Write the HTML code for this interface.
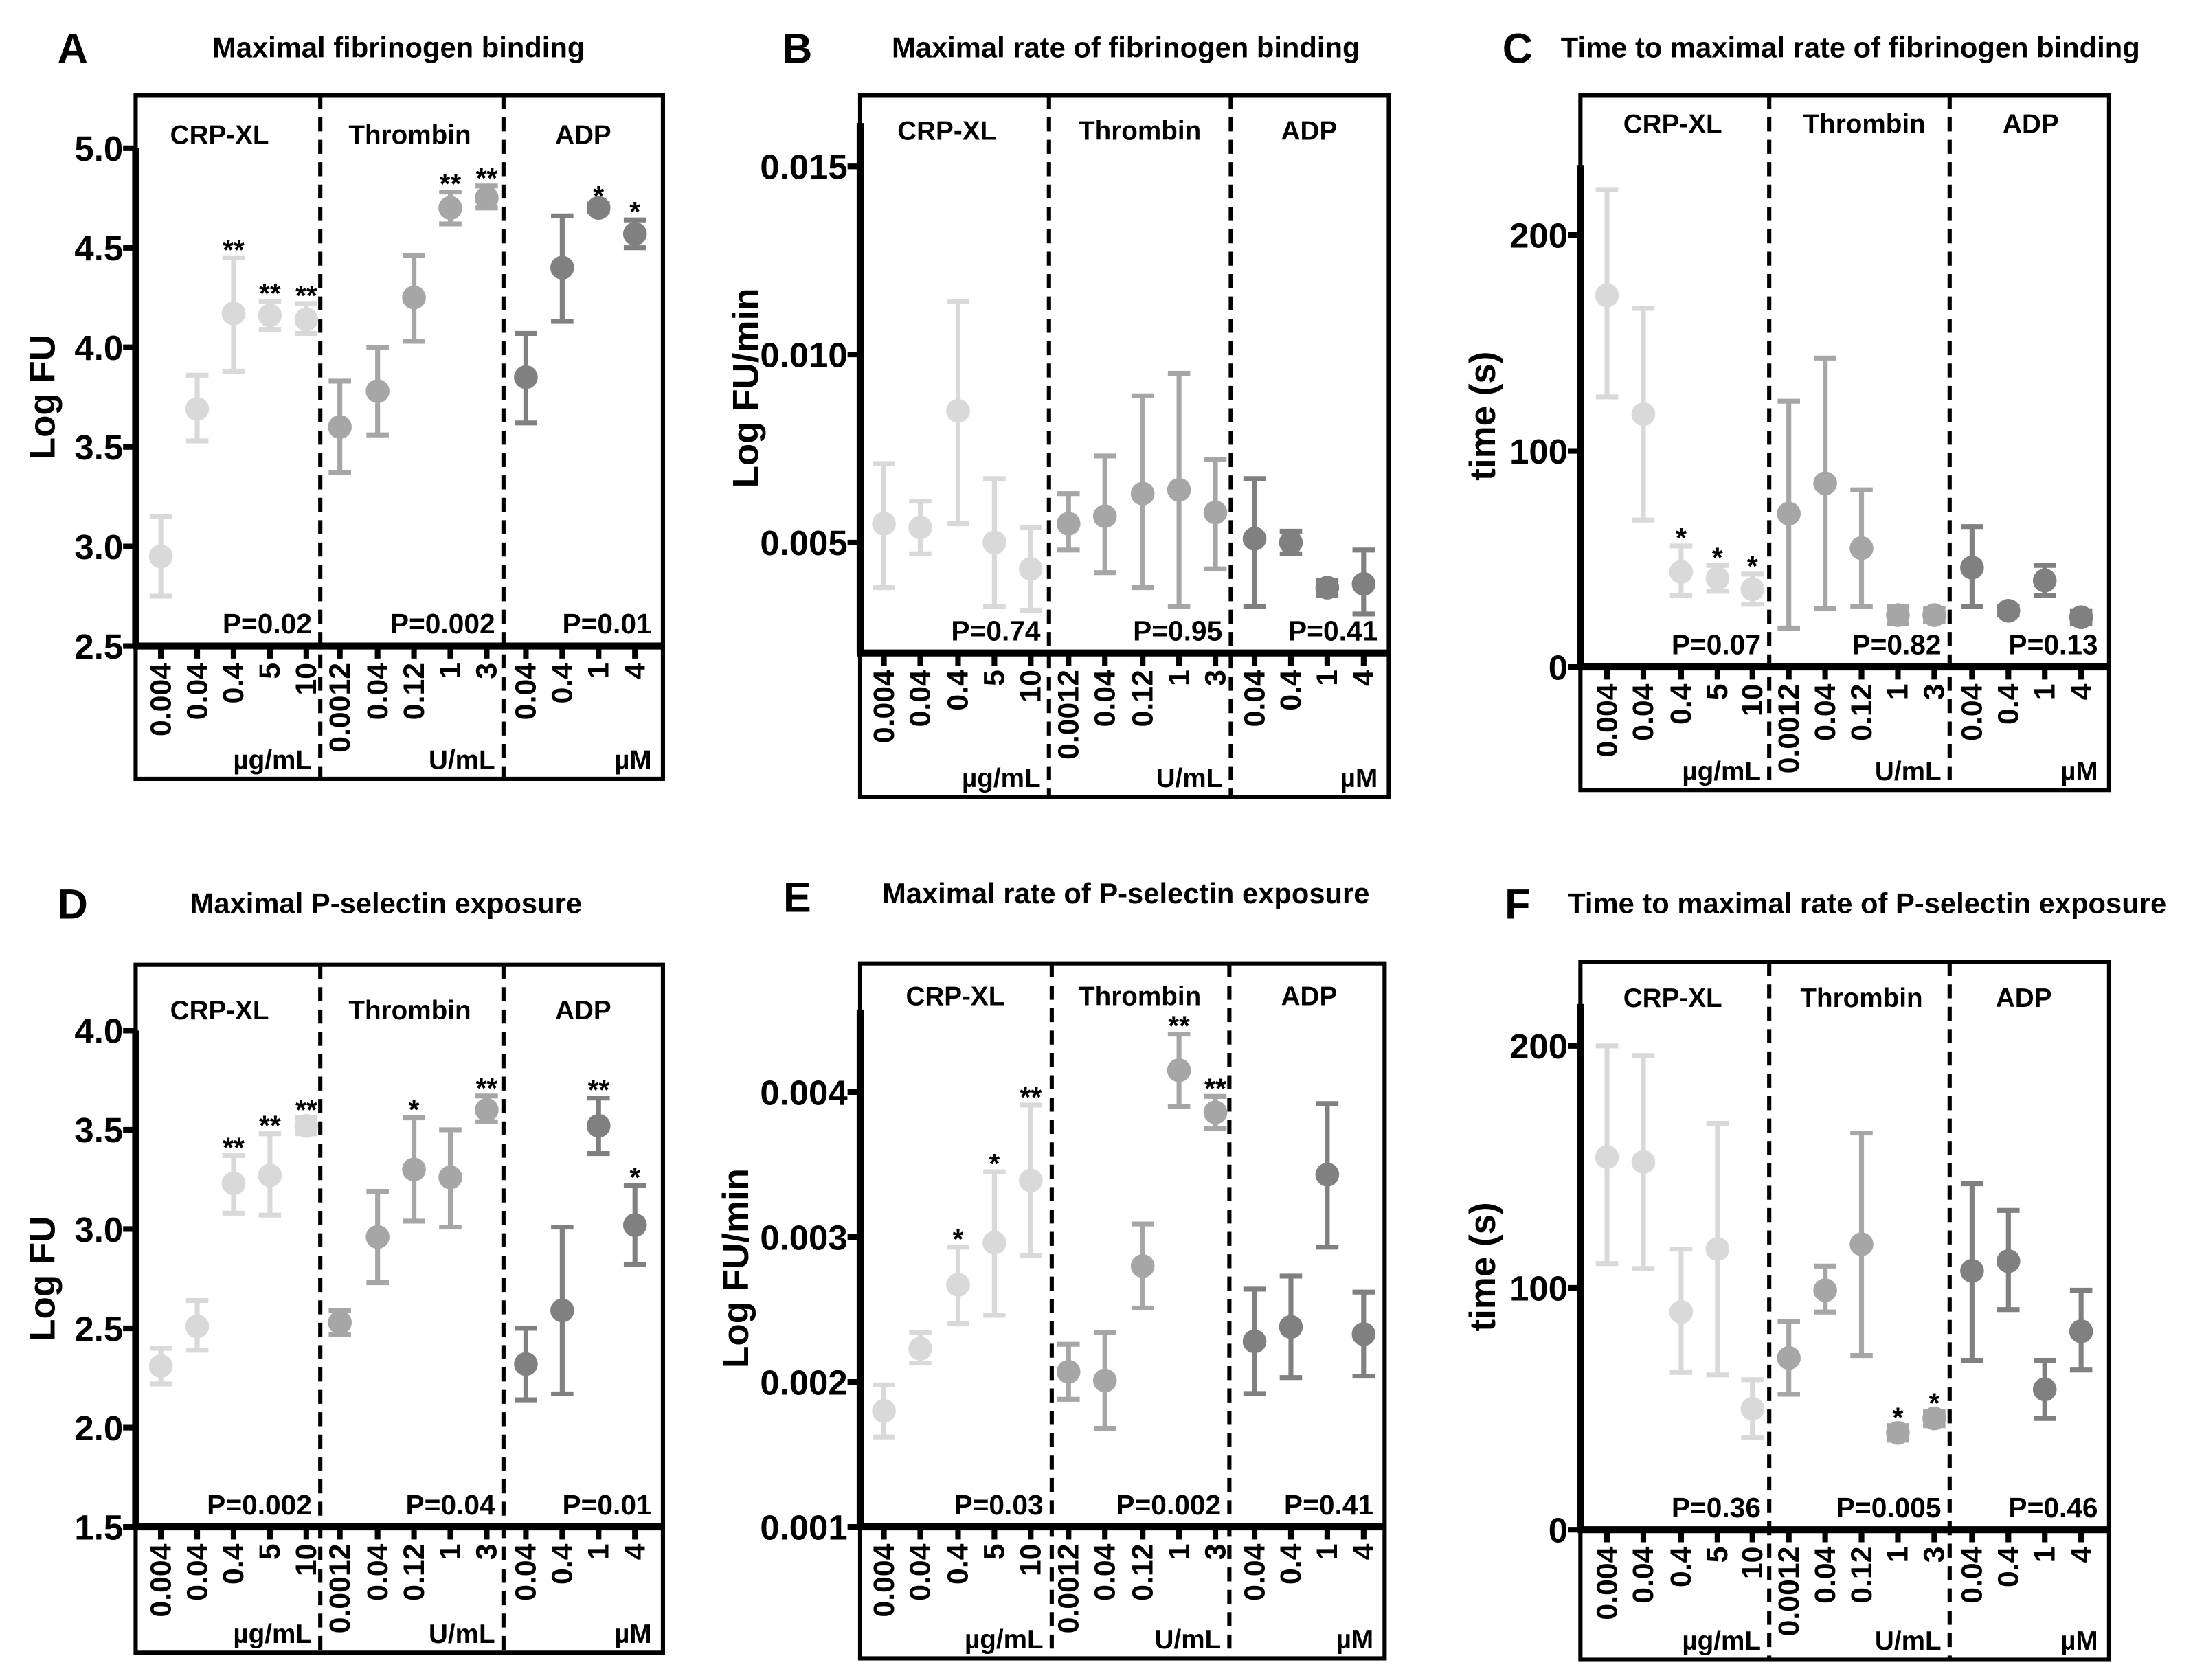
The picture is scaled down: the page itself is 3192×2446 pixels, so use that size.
<!DOCTYPE html>
<html><head><meta charset="utf-8"><style>
html,body{margin:0;padding:0;background:#fff}
svg{display:block}
text{font-family:"Liberation Sans",Arial,sans-serif;font-weight:bold}
</style></head><body>
<svg id="fig" width="3192" height="2446" viewBox="0 0 1568 1201.5" preserveAspectRatio="none" xmlns="http://www.w3.org/2000/svg"></svg>
<script>
// ---- data ----
const groups = ["CRP-XL","Thrombin","ADP"];
const units = ["µg/mL","U/mL","µM"];
const catLabels = ["0.004","0.04","0.4","5","10","0.0012","0.04","0.12","1","3","0.04","0.4","1","4"];
const catGroup = [0,0,0,0,0,1,1,1,1,1,2,2,2,2];

const aMean=[2.95,3.69,4.17,4.16,4.14,3.60,3.78,4.25,4.70,4.75,3.85,4.40,4.70,4.57];
const aLo=[2.75,3.53,3.88,4.09,4.07,3.37,3.56,4.03,4.62,4.70,3.62,4.13,4.68,4.50];
const aHi=[3.15,3.86,4.45,4.23,4.22,3.83,4.00,4.46,4.78,4.81,4.07,4.66,4.72,4.64];
const aStars=["","","**","**","**","","","","**","**","","","*","*"];
const aP=["P=0.02","P=0.002","P=0.01"];
const aTicks=[2.5,3.0,3.5,4.0,4.5,5.0];
const aTickLabels=["2.5","3.0","3.5","4.0","4.5","5.0"];

const bMean=[0.0055,0.0054,0.0085,0.0050,0.0043,0.0055,0.0057,0.0063,0.0064,0.0058,0.0051,0.0050,0.0038,0.0039];
const bLo=[0.0038,0.0047,0.0055,0.0033,0.0032,0.0048,0.0042,0.0038,0.0033,0.0043,0.0033,0.0047,0.0036,0.0031];
const bHi=[0.0071,0.0061,0.0114,0.0067,0.0054,0.0063,0.0073,0.0089,0.0095,0.0072,0.0067,0.0053,0.0040,0.0048];
const bStars=["","","","","","","","","","","","","",""];
const bP=["P=0.74","P=0.95","P=0.41"];
const bTicks=[0.005,0.010,0.015];
const bTickLabels=["0.005","0.010","0.015"];

const cMean=[172,117,44,41,36,71,85,55,24,24,46,26,40,23];
const cLo=[125,68,33,35,29,18,27,28,20,21,28,24,33,20];
const cHi=[221,166,56,47,43,123,143,82,28,27,65,28,47,26];
const cStars=["","","*","*","*","","","","","","","","",""];
const cP=["P=0.07","P=0.82","P=0.13"];
const cTicks=[0,100,200];
const cTickLabels=["0","100","200"];

const dMean=[2.31,2.51,3.23,3.27,3.52,2.53,2.96,3.30,3.26,3.60,2.32,2.59,3.52,3.02];
const dLo=[2.22,2.39,3.08,3.07,3.48,2.47,2.73,3.04,3.01,3.54,2.14,2.17,3.38,2.82];
const dHi=[2.40,2.64,3.37,3.48,3.56,2.59,3.19,3.56,3.50,3.67,2.50,3.01,3.66,3.22];
const dStars=["","","**","**","**","","","*","","**","","","**","*"];
const dP=["P=0.002","P=0.04","P=0.01"];
const dTicks=[1.5,2.0,2.5,3.0,3.5,4.0];
const dTickLabels=["1.5","2.0","2.5","3.0","3.5","4.0"];

const eMean=[0.00180,0.00223,0.00267,0.00296,0.00339,0.00207,0.00201,0.00280,0.00415,0.00386,0.00228,0.00238,0.00343,0.00233];
const eLo=[0.00162,0.00213,0.00240,0.00246,0.00287,0.00188,0.00168,0.00251,0.00390,0.00375,0.00192,0.00203,0.00293,0.00204];
const eHi=[0.00198,0.00234,0.00293,0.00345,0.00391,0.00226,0.00234,0.00309,0.00440,0.00397,0.00264,0.00273,0.00392,0.00262];
const eStars=["","","*","*","**","","","","**","**","","","",""];
const eP=["P=0.03","P=0.002","P=0.41"];
const eTicks=[0.001,0.002,0.003,0.004];
const eTickLabels=["0.001","0.002","0.003","0.004"];

const fMean=[154,152,90,116,50,71,99,118,40,46,107,111,58,82];
const fLo=[110,108,65,64,38,56,90,72,37,43,70,91,46,66];
const fHi=[200,196,116,168,62,86,109,164,43,49,143,132,70,99];
const fStars=["","","","","","","","","*","*","","","",""];
const fP=["P=0.36","P=0.005","P=0.46"];
const fTicks=[0,100,200];
const fTickLabels=["0","100","200"];

const colors=["#d9d9d9","#a6a6a6","#808080"];
const NS="http://www.w3.org/2000/svg";
const svg=document.getElementById('fig');
function mk(tag,attrs,parent){const e=document.createElementNS(NS,tag);for(const k in attrs)e.setAttribute(k,attrs[k]);(parent||svg).appendChild(e);return e;}
function txt(s,attrs,parent){const t=mk('text',attrs,parent);t.textContent=s;return t;}

const panels=[
 {id:'a',letter:'A',title:'Maximal fibrinogen binding',titleX:285,titleY:41,letterY:45,box:[97,68,474,557],axisTop:106,
  v0:2.5,y0:462,v1:5.0,y1:106,bottom:462,mean:aMean,lo:aLo,hi:aHi,stars:aStars,p:aP,ticks:aTicks,tl:aTickLabels,ytitle:'Log FU',ytx:30,
  xs:[115,141,167,193,219,243,270,296,322,348,376,402,428,454],dash:[229,360],hy:103,hx:[157,293,417]},
 {id:'b',letter:'B',title:'Maximal rate of fibrinogen binding',titleX:805,titleY:41,letterY:45,box:[615,68,993,570],axisTop:88,
  v0:0.005,y0:388,v1:0.015,y1:119,bottom:467,mean:bMean,lo:bLo,hi:bHi,stars:bStars,p:bP,ticks:bTicks,tl:bTickLabels,ytitle:'Log FU/min',ytx:533,
  xs:[632,658,685,711,737,764,790,817,843,869,897,923,949,975],dash:[750,880],hy:100,hx:[677,815,936]},
 {id:'c',letter:'C',title:'Time to maximal rate of fibrinogen binding',titleX:1323,titleY:41,letterY:45,box:[1130,68,1508,565],axisTop:118,
  v0:0,y0:477,v1:200,y1:168,bottom:477,mean:cMean,lo:cLo,hi:cHi,stars:cStars,p:cP,ticks:cTicks,tl:cTickLabels,ytitle:'time (s)',ytx:1060,
  xs:[1149,1175,1202,1228,1253,1279,1305,1331,1357,1383,1410,1436,1462,1488],dash:[1265,1394],hy:95,hx:[1196,1333,1452]},
 {id:'d',letter:'D',title:'Maximal P-selectin exposure',titleX:276,titleY:653,letterY:657,box:[97,690,474,1182],axisTop:737,
  v0:1.5,y0:1092,v1:4.0,y1:737,bottom:1092,mean:dMean,lo:dLo,hi:dHi,stars:dStars,p:dP,ticks:dTicks,tl:dTickLabels,ytitle:'Log FU',ytx:30,
  xs:[115,141,167,193,219,243,270,296,322,348,376,402,428,454],dash:[229,360],hy:729,hx:[157,293,417]},
 {id:'e',letter:'E',title:'Maximal rate of P-selectin exposure',titleX:805,titleY:646,letterY:652,box:[615,689,990,1186],axisTop:722,
  v0:0.001,y0:1092,v1:0.004,y1:781,bottom:1092,mean:eMean,lo:eLo,hi:eHi,stars:eStars,p:eP,ticks:eTicks,tl:eTickLabels,ytitle:'Log FU/min',ytx:526,
  xs:[632,658,685,711,737,764,790,817,843,869,897,923,949,975],dash:[752,879],hy:719,hx:[683,815,936]},
 {id:'f',letter:'F',title:'Time to maximal rate of P-selectin exposure',titleX:1335,titleY:653,letterY:657,box:[1130,688,1508,1187],axisTop:718,
  v0:0,y0:1094,v1:200,y1:748,bottom:1094,mean:fMean,lo:fLo,hi:fHi,stars:fStars,p:fP,ticks:fTicks,tl:fTickLabels,ytitle:'time (s)',ytx:1060,
  xs:[1149,1175,1202,1228,1253,1279,1305,1331,1357,1383,1410,1436,1462,1488],dash:[1265,1394],hy:720,hx:[1196,1331,1447]}
];

panels.forEach(P=>{
  const g=mk('g',{});
  
  
  const yScale=v=>P.y0+(v-P.v0)/(P.v1-P.v0)*(P.y1-P.y0);
  const [bx0,by0,bx1,by1]=P.box;
  const L=txt(P.letter,{x:P.box[0]-45,y:P.letterY,'font-size':30,'text-anchor':'middle',fill:'#000'},g);
  
  
  const T=txt(P.title,{x:P.titleX,y:P.titleY,'font-size':20.5,'text-anchor':'middle',fill:'#000'},g);
  
  
  const box=mk('rect',{x:bx0,y:by0,width:bx1-bx0,height:by1-by0,fill:'none',stroke:'#000','stroke-width':3},g);
  
  
  const ax=mk('line',{x1:bx0,y1:P.axisTop,x2:bx0,y2:P.bottom,stroke:'#000','stroke-width':5},g);
  
  
  const xa=mk('line',{x1:bx0-2,y1:P.bottom,x2:bx1,y2:P.bottom,stroke:'#000','stroke-width':5},g);
  
  
  P.dash.forEach((dx,i)=>{
    const d=mk('line',{x1:dx,y1:by0,x2:dx,y2:by1,stroke:'#000','stroke-width':3,'stroke-dasharray':'10,6'},g);
    
    
  });
  P.ticks.forEach((v,i)=>{
    const y=yScale(v);
    mk('line',{x1:bx0-9,y1:y,x2:bx0,y2:y,stroke:'#000','stroke-width':4},g);
    const t=txt(P.tl[i],{x:bx0-9,y:y+9,'font-size':25,'text-anchor':'end',fill:'#000'},g);
    
    
  });
  const yc=(P.axisTop+P.bottom)/2;
  const yt=txt(P.ytitle,{x:P.ytx,y:yc,'font-size':26,'text-anchor':'middle',fill:'#000',transform:`rotate(-90 ${P.ytx} ${yc})`},g);
  yt.setAttribute('dy','9');
  
  
  groups.forEach((gn,i)=>{
    const h=txt(gn,{x:P.hx[i],y:P.hy,'font-size':19,'text-anchor':'middle',fill:'#000'},g);
    
    
    const right=i<2?P.dash[i]-6:bx1-8;
    const pv=txt(P.p[i],{x:right,y:P.bottom-9,'font-size':20,'text-anchor':'end',fill:'#000'},g);
    
    
    const u=txt(units[i],{x:right,y:by1-7,'font-size':19,'text-anchor':'end',fill:'#000'},g);
    
    
  });
  P.xs.forEach((x,i)=>{
    mk('line',{x1:x,y1:P.bottom,x2:x,y2:P.bottom+9,stroke:'#000','stroke-width':4},g);
    const cl=txt(catLabels[i],{x:x+7,y:P.bottom+12,'font-size':21,'text-anchor':'end',fill:'#000',transform:`rotate(-90 ${x+7} ${P.bottom+12})`},g);
    
    
    const col=colors[catGroup[i]];
    const yh=yScale(P.hi[i]),yl=yScale(P.lo[i]),ym=yScale(P.mean[i]);
    const eb=mk('path',{d:`M${x},${yh}V${yl}M${x-8},${yh}H${x+8}M${x-8},${yl}H${x+8}`,stroke:col,'stroke-width':3.5,fill:'none'},g);
    
    
    const c=mk('circle',{cx:x,cy:ym,r:8.5,fill:col},g);
    
    
    if(P.stars[i]){
      const s=txt(P.stars[i],{x:x,y:yh-2,'font-size':20,'text-anchor':'middle',fill:'#000'},g);
      s.setAttribute('dy','3');
      
      
    }
  });
});
</script>
</body></html>
